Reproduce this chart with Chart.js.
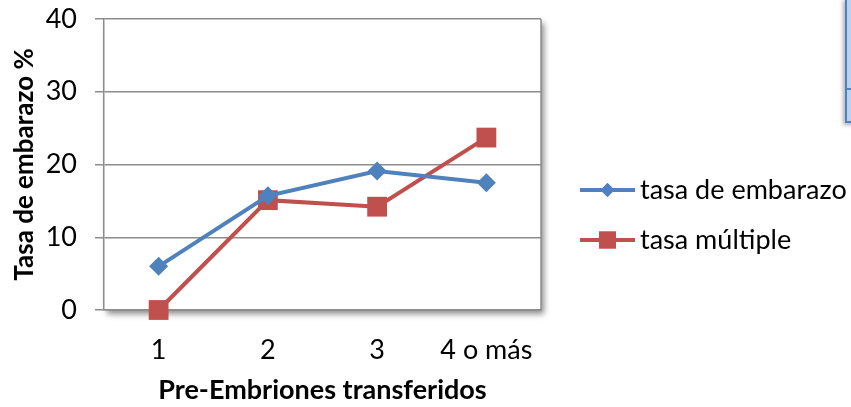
<!DOCTYPE html>
<html>
<head>
<meta charset="utf-8">
<script src="https://cdn.jsdelivr.net/npm/chart.js@4/dist/chart.umd.min.js"></script>
<style>
  html, body { margin: 0; padding: 0; background: #fff; }
  #wrap { position: relative; width: 851px; height: 407px; overflow: hidden; }
  #side { position: absolute; left: 845px; top: -2px; width: 20px; height: 125px; background: #b9d1f3;
          border: 2px solid #4f81bd; box-sizing: border-box; box-shadow: -2px 2px 4px rgba(0,0,0,0.3); }
  #side div { position: absolute; left: 0; right: 0; top: 88px; border-top: 2px solid #4f81bd; }
</style>
</head>
<body>
<div id="wrap">
  <canvas id="c" width="851" height="407"></canvas>
  <div id="side"><div></div></div>
</div>
<script>
const categories = ['1', '2', '3', '4 o más'];
const tasaEmbarazo = [6.0, 15.7, 19.1, 17.5];
const tasaMultiple = [0, 15.1, 14.2, 23.7];
const yTicks = [0, 10, 20, 30, 40];

const FONT = 'Lato, Calibri, sans-serif';
const GRID = '#8c8c8c';

// sombra y marco del área de trazado
const plotFrame = {
  id: 'plotFrame',
  beforeDraw(chart) {
    const { ctx, chartArea: a } = chart;
    ctx.save();
    ctx.shadowColor = 'rgba(0,0,0,0.45)';
    ctx.shadowBlur = 6;
    ctx.shadowOffsetX = 3;
    ctx.shadowOffsetY = 4;
    ctx.fillStyle = '#fff';
    ctx.fillRect(a.left, a.top, a.right - a.left, a.bottom - a.top);
    ctx.restore();
  },
  beforeDatasetsDraw(chart) {
    const { ctx, chartArea: a } = chart;
    ctx.save();
    ctx.strokeStyle = GRID;
    ctx.lineWidth = 1.5;
    ctx.beginPath();
    ctx.moveTo(a.right, a.top);
    ctx.lineTo(a.right, a.bottom);
    ctx.stroke();
    ctx.restore();
  }
};

// leyenda a la derecha: línea con marcador + texto
const sideLegend = {
  id: 'sideLegend',
  afterDraw(chart) {
    const { ctx } = chart;
    const rows = [190, 240];
    chart.data.datasets.forEach((ds, i) => {
      const y = rows[i];
      ctx.save();
      ctx.strokeStyle = ds.borderColor;
      ctx.lineWidth = 4;
      ctx.beginPath();
      ctx.moveTo(580, y);
      ctx.lineTo(635, y);
      ctx.stroke();
      ctx.fillStyle = ds.backgroundColor;
      Chart.helpers.drawPoint(ctx, { pointStyle: ds.pointStyle, radius: ds.pointStyle === 'rect' ? 12 : 7, borderWidth: 0 }, 607.5, y);
      ctx.fill();
      ctx.fillStyle = '#000';
      ctx.font = '27px ' + FONT;
      ctx.textBaseline = 'middle';
      ctx.fillText(ds.label, 640, y);
      ctx.restore();
    });
  }
};

new Chart(document.getElementById('c'), {
  type: 'line',
  data: {
    labels: categories,
    datasets: [
      { label: 'tasa de embarazo', data: tasaEmbarazo, borderColor: '#4f81bd', backgroundColor: '#4f81bd',
        pointStyle: 'rectRot', pointRadius: 9.5, pointBorderWidth: 0, borderWidth: 4, clip: false },
      { label: 'tasa múltiple', data: tasaMultiple, borderColor: '#c0504d', backgroundColor: '#c0504d',
        pointStyle: 'rect', pointRadius: 14, pointBorderWidth: 0, borderWidth: 4, clip: false }
    ]
  },
  options: {
    responsive: false,
    animation: false,
    layout: { padding: { top: 19, right: 310, left: 0, bottom: 0 } },
    plugins: { legend: { display: false }, tooltip: { enabled: false } },
    scales: {
      x: {
        offset: true,
        grid: { display: false, drawTicks: false },
        border: { display: true, color: GRID, width: 1.5 },
        ticks: { color: '#000', font: { family: FONT, size: 27 }, padding: 24 },
        title: { display: true, text: 'Pre-Embriones transferidos', color: '#000',
                 font: { family: FONT, size: 27, weight: 'bold' }, padding: { top: 4, bottom: 1 } },
        afterFit(scale) { scale.height = 97; scale.paddingLeft = 0; scale.paddingRight = 0; }
      },
      y: {
        min: 0, max: 40,
        afterBuildTicks(scale) { scale.ticks = yTicks.map((v) => ({ value: v })); },
        grid: { color: GRID, lineWidth: 1.5, tickLength: 9 },
        border: { display: true, color: GRID, width: 1.5 },
        ticks: { color: '#000', font: { family: FONT, size: 27 }, padding: 18 },
        title: { display: true, text: 'Tasa de embarazo %', color: '#000',
                 font: { family: FONT, size: 26, weight: 'bold' }, padding: { top: 9, bottom: 4 } },
        afterFit(scale) { scale.width = 104; scale.paddingTop = 0; scale.paddingBottom = 0; }
      }
    }
  },
  plugins: [plotFrame, sideLegend]
});
</script>
</body>
</html>
